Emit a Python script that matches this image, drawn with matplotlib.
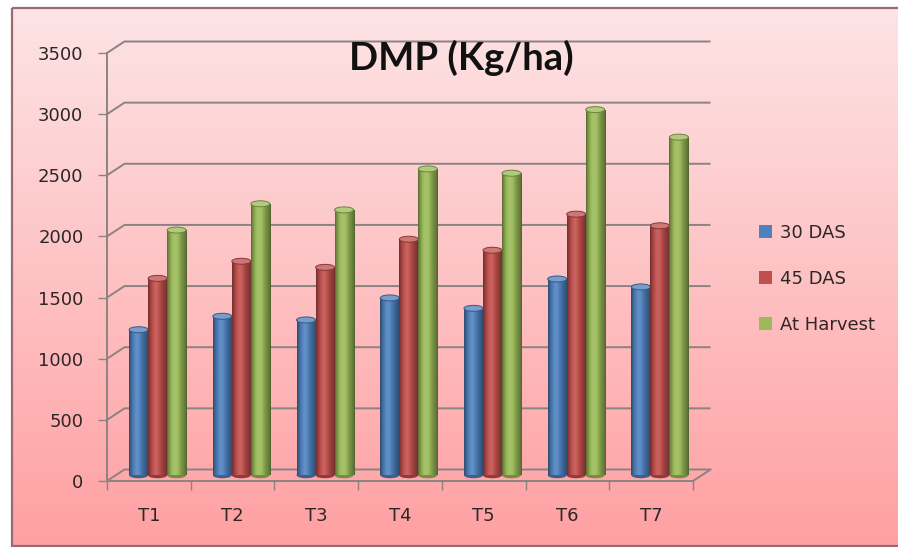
import numpy as np
import matplotlib
matplotlib.use('Agg')
import matplotlib.pyplot as plt
from matplotlib.patches import Rectangle, Ellipse, Patch
from matplotlib.colors import to_rgb

# ---------------- data ----------------
categories = ['T1', 'T2', 'T3', 'T4', 'T5', 'T6', 'T7']
das30 = [1190, 1300, 1270, 1450, 1365, 1605, 1540]
das45 = [1610, 1750, 1700, 1930, 1840, 2135, 2040]
harvest = [2005, 2220, 2170, 2505, 2470, 2990, 2765]
series_names = ['30 DAS', '45 DAS', 'At Harvest']
yticks = [0, 500, 1000, 1500, 2000, 2500, 3000, 3500]
title = 'DMP (Kg/ha)'

series_colors = ['#4F81BD', '#C0504D', '#9BBB59']
grid_col = '#8c8282'
text_col = '#2e2626'

W_PX, H_PX = 898, 547
fig = plt.figure(figsize=(W_PX / 100, H_PX / 100), dpi=100)
fig.patch.set_facecolor('white')

# ---------------- background panel ----------------
bg = fig.add_axes([0, 0, 1, 1], zorder=0)
bg.axis('off')
g = np.linspace(0, 1, 256)[:, None, None]
c_top = np.array([253, 228, 229]) / 255
c_bot = np.array([255, 160, 162]) / 255
img = c_top + (c_bot - c_top) * g
bg.imshow(img, extent=[11.5, 905, 546, 8], aspect='auto', interpolation='bilinear', zorder=0)
bg.add_patch(Rectangle((11.5, 8), 900, 538, fill=False, edgecolor='#9a6a74', lw=1.6, zorder=1))
bg.set_xlim(0, W_PX)
bg.set_ylim(H_PX, 0)

# ---------------- main axes ----------------
x_left, x_right, y_zero, y_top = 107, 693, 481, 53
ax = fig.add_axes([x_left / W_PX, (H_PX - y_zero) / H_PX,
                   (x_right - x_left) / W_PX, (y_zero - y_top) / H_PX], zorder=1)
ax.patch.set_alpha(0)
for s in ax.spines.values():
    s.set_visible(False)
ncat = len(categories)
ymax = yticks[-1]
ax.set_autoscale_on(False)
ax.set_xlim(-0.5, ncat - 0.5)
ax.set_ylim(0, ymax)

ax_w_px = x_right - x_left
ax_h_px = y_zero - y_top
ddx = 17.5 * ncat / ax_w_px
ddy = 11.5 * ymax / ax_h_px

lw_grid = 1.4
# back-wall gridlines with oblique stubs
for v in yticks:
    ax.plot([-0.5, -0.5 + ddx, ncat - 0.5 + ddx], [v, v + ddy, v + ddy],
            color=grid_col, lw=lw_grid, clip_on=False, zorder=1, solid_capstyle='butt')
# floor right edge
ax.plot([ncat - 0.5, ncat - 0.5 + ddx], [0, ddy], color=grid_col, lw=lw_grid, clip_on=False, zorder=1)
# front axes lines
ax.plot([-0.5, ncat - 0.5], [0, 0], color=grid_col, lw=lw_grid, clip_on=False, zorder=2)
ax.plot([-0.5, -0.5], [0, ymax], color=grid_col, lw=lw_grid, clip_on=False, zorder=2)

# ticks
ax.set_yticks(yticks)
ax.set_yticklabels([str(v) for v in yticks])
ax.tick_params(axis='y', length=6.5, width=1.0, color=grid_col, pad=10.5,
               labelsize=13, labelcolor=text_col)
ax.set_xticks(np.arange(ncat))
ax.set_xticklabels(categories)
ax.set_xticks(np.arange(ncat + 1) - 0.5, minor=True)
ax.tick_params(axis='x', which='major', length=0, pad=18.5, labelsize=13, labelcolor=text_col)
ax.tick_params(axis='x', which='minor', length=6.5, width=1.0, color=grid_col)


def shade(col, n=64):
    base = np.array(to_rgb(col))
    t = np.linspace(0, 1, n)
    k = 0.68 + 0.42 * np.exp(-((t - 0.40) / 0.30) ** 2)
    k = k * (1 - 0.25 * (np.abs(t - 0.5) * 2) ** 6)
    out = np.empty((n, 3))
    for i, kk in enumerate(k):
        if kk <= 1:
            out[i] = base * kk
        else:
            out[i] = base + (1 - base) * (kk - 1) * 1.1
    return np.clip(out, 0, 1)


bw = 0.227
eh = 6.0 * ymax / ax_h_px
series_vals = [das30, das45, harvest]
for j, (vals, col) in enumerate(zip(series_vals, series_colors)):
    base = np.array(to_rgb(col))
    xs = np.arange(ncat) + ddx / 2 + (j - 1) * bw
    z = 3 + j
    bars = ax.bar(xs, vals, width=bw, bottom=ddy / 2, color=col, linewidth=0, zorder=z)
    sh = shade(col)
    for rect in bars:
        x0 = rect.get_x()
        x1 = x0 + rect.get_width()
        y0 = rect.get_y()
        y1 = y0 + rect.get_height()
        xc = (x0 + x1) / 2
        ax.add_patch(Ellipse((xc, y0), bw, eh, facecolor=base * 0.75, edgecolor='none', zorder=z - 0.05))
        im = ax.imshow(sh[None, :, :], extent=[x0, x1, y0, y1], aspect='auto',
                       interpolation='bilinear', zorder=z)
        im.set_clip_path(rect)
        topc = np.clip(base + (1 - base) * 0.22, 0, 1)
        ax.add_patch(Ellipse((xc, y1), bw, eh, facecolor=topc, edgecolor=base * 0.7,
                             lw=0.7, zorder=z + 0.05))

ax.set_xlim(-0.5, ncat - 0.5)
ax.set_ylim(0, ymax)

# title
fig.text(461 / W_PX, 1 - 58 / H_PX, title, ha='center', va='center', fontsize=27.5,
         fontweight='bold', family=['Lato', 'DejaVu Sans'], color='#111111', zorder=10)

# legend
handles = [Patch(facecolor=c, edgecolor='none') for c in series_colors]
leg = fig.legend(handles, series_names, loc='upper left',
                 bbox_to_anchor=(759 / W_PX, 1 - 224 / H_PX), frameon=False,
                 fontsize=13, handlelength=0.7, handleheight=0.7, handletextpad=0.45,
                 labelspacing=1.55, borderpad=0, borderaxespad=0)
for t in leg.get_texts():
    t.set_color(text_col)

fig.savefig('out.png', dpi=100, facecolor='white')
